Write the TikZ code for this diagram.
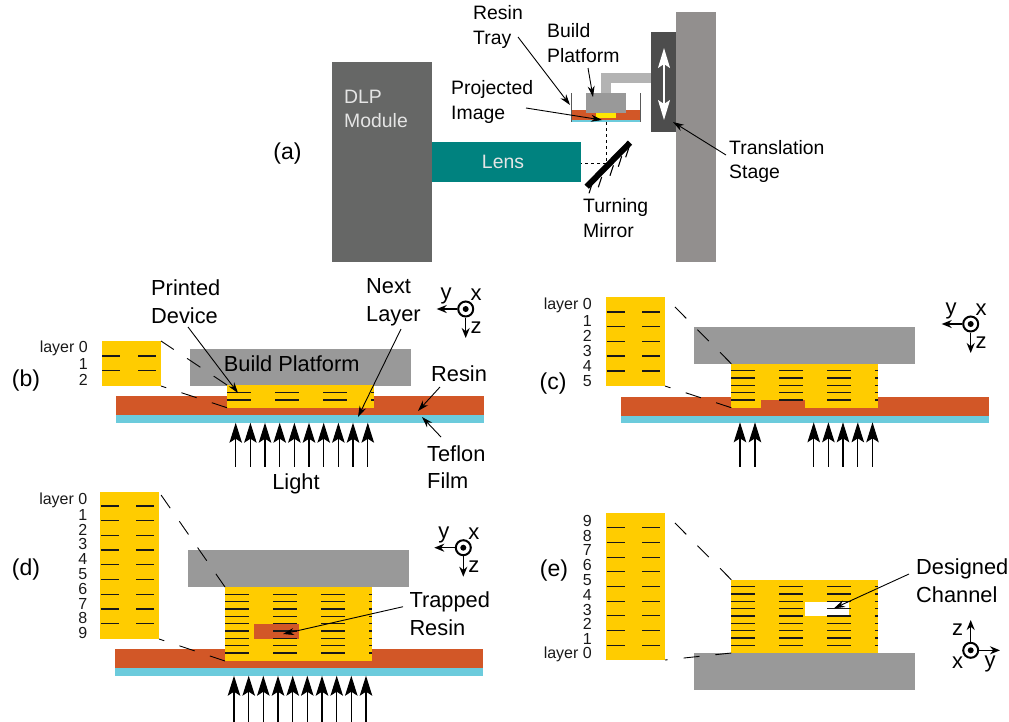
\documentclass[tikz,border=0pt]{standalone}
\usepackage{fontspec}
\setmainfont{Liberation Sans}
\usepackage{xcolor}
\usetikzlibrary{arrows.meta}
\definecolor{resincol}{HTML}{D25727}
\definecolor{filmcol}{HTML}{6CCBDC}
\definecolor{devicecol}{HTML}{FFCC00}
\definecolor{platcol}{HTML}{999999}
\definecolor{lenscol}{HTML}{00827F}
\definecolor{stagecol}{HTML}{928F8E}
\definecolor{carcol}{HTML}{4D4D4D}
\definecolor{dlpcol}{HTML}{666766}
\definecolor{armcol}{HTML}{B3B3B3}
\tikzset{
  biglabel/.style={inner sep=0pt,anchor=west,align=left,text=black,font=\fontsize{21.8}{27.8}\selectfont},
  toplabel/.style={inner sep=0pt,anchor=west,align=left,text=black,font=\fontsize{19.4}{24.6}\selectfont},
  panellabel/.style={inner sep=0pt,text=black,font=\fontsize{23}{27}\selectfont},
  layerlabel/.style={inner sep=0pt,anchor=east,text=black!90,font=\fontsize{16}{16}\selectfont},
  axlabel/.style={inner sep=0pt,font=\fontsize{22}{22}\selectfont},
  callout/.style={-{Stealth[length=11pt,width=7pt]},line width=0.9pt},
  lightray/.style={-{Stealth[length=20pt,width=12.5pt,inset=4pt]},line width=1.1pt,black},
  axarrow/.style={-{Stealth[length=10pt,width=8pt]},line width=1.4pt},
  layerline/.style={line width=1.1pt,black!90},
  zoomline/.style={line width=0.9pt,dash pattern=on 16pt off 16pt},
}
\begin{document}
\begin{tikzpicture}[x=1pt,y=-1pt]
  \useasboundingbox (0,0) rectangle (1009,721);

  \fill[stagecol] (676,12) rectangle (716,262);
  \fill[carcol] (651,32) rectangle (676,132);
  \fill[dlpcol] (332,62) rectangle (432,262);
  \fill[lenscol] (432,142) rectangle (581,182);
  \fill[armcol] (601,73) rectangle (651,83);
  \fill[armcol] (601,73) rectangle (611,93);
  \fill[resincol] (572,110) rectangle (641,120);
  \fill[filmcol] (572,120) rectangle (641,122);
  \fill[platcol] (586,93) rectangle (626,113);
  \fill[yellow!90!orange] (596,113) rectangle (616,118);
  \draw[line width=1.2pt,black!65] (571.7,93) -- (571.7,122);
  \draw[line width=1.2pt,black!65] (640.8,93) -- (640.8,122);
  \draw[white,line width=1.5pt,{Stealth[length=20pt,width=12pt,inset=4pt]}-{Stealth[length=20pt,width=12pt,inset=4pt]}] (664,48) -- (664,120);
  \draw[line width=0.8pt,dashed] (606.7,122) -- (606.7,163) -- (581,163);
  \draw[line width=6pt] (586.7,186.7) -- (630,142.7);
  \foreach \hx/\hy in {589/193.3,598.3/187.3,610/175.7,618.3/166.7,625.7/157.3}
    \draw[line width=1.1pt] (\hx,\hy) -- ++(3.4,-10.4);

  \node[toplabel,text=white!90!black] (dlp) at (344,109) {DLP\\Module};
  \node[toplabel,text=white!90!black,anchor=center] (lens) at (503,161.5) {Lens};
  \node[toplabel] (tray) at (473,27) {Resin\\Tray};
  \node[toplabel] (buildtop) at (547,43) {Build\\Platform};
  \node[toplabel] (image) at (451,102) {Projected\\Image};
  \node[toplabel] (stage) at (729,161.5) {Translation\\Stage};
  \node[toplabel] (mirror) at (583,218) {Turning\\Mirror};
  \node[panellabel] (pa) at (287.5,154) {(a)};

  \coordinate (traytail) at (518,37);
  \coordinate (traytip) at (570,105);
  \coordinate (buildtail) at (588,68);
  \coordinate (buildtip) at (593,97);
  \coordinate (imagetail) at (526,108);
  \coordinate (imagetip) at (602,120);
  \coordinate (stagetail) at (726,155);
  \coordinate (stagetip) at (673,122);
  \draw[callout] (traytail) -- (traytip);
  \draw[callout] (buildtail) -- (buildtip);
  \draw[callout] (imagetail) -- (imagetip);
  \draw[callout] (stagetail) -- (stagetip);

  \fill[resincol] (116,396) rectangle (484,415);
  \fill[filmcol] (116,415) rectangle (484,423);
  \fill[platcol] (190,349) rectangle (411,386);
  \fill[devicecol] (227,385) rectangle (374,407.7);
  \fill[devicecol] (102,341) rectangle (161,386);
  \foreach \ly in {392.7,400}
    \foreach \lx/\lw in {227/24,275/24,323/24,371/3}
      \draw[layerline] (\lx,\ly) -- ++(\lw,0);
  \foreach \ly in {356,370.7}
    \foreach \lx in {102,138}
      \draw[layerline] (\lx,\ly) -- ++(18,0);
  \coordinate (bdevtop) at (227,385);
  \coordinate (bdevbot) at (227,407.7);
  \coordinate (binstop) at (161,341);
  \coordinate (binsbot) at (161,386);
  \draw[zoomline] (bdevtop) -- (binstop);
  \draw[zoomline] (bdevbot) -- (binsbot);
  \foreach \ax in {235.7,250.4,265,279.7,294.4,309,323.7,338.4,353,367.8}
    \draw[lightray] (\ax,466.7) -- (\ax,422.7);

  \node[panellabel] (pb) at (26,380.5) {(b)};
  \node[layerlabel] (blayer0) at (88,348) {layer 0};
  \foreach \n/\ly in {1/364,2/380}
    \node[layerlabel] (blayer\n) at (88,\ly) {\n};
  \node[biglabel,anchor=center] (platb) at (291.7,363.5) {Build Platform};
  \node[biglabel] (printed) at (151,302) {Printed\\Device};
  \node[biglabel] (nextlayer) at (366,302) {Next\\Layer};
  \node[biglabel] (resinb) at (431,374) {Resin};
  \node[biglabel] (teflon) at (427,467) {Teflon\\Film};
  \node[biglabel,anchor=center] (light) at (296,484) {Light};

  \coordinate (printedtail) at (188,327);
  \coordinate (printedtip) at (238,393);
  \coordinate (nexttail) at (401,329);
  \coordinate (nexttip) at (358,417);
  \coordinate (resintail) at (440,387);
  \coordinate (resintip) at (418,411);
  \coordinate (teflontail) at (441,437);
  \coordinate (teflontip) at (422,417);
  \draw[callout] (printedtail) -- (printedtip);
  \draw[callout] (nexttail) -- (nexttip);
  \draw[callout] (resintail) -- (resintip);
  \draw[callout] (teflontail) -- (teflontip);

  \fill[resincol] (621,397) rectangle (989,416);
  \fill[filmcol] (621,416) rectangle (989,423);
  \fill[platcol] (694,327) rectangle (915,363.7);
  \fill[devicecol] (731.3,363.7) rectangle (878.3,407.7);
  \fill[resincol] (760.7,400) rectangle (805,407.7);
  \fill[devicecol] (606,297) rectangle (665,386);
  \foreach \ly in {370.7,378,385.3,392.7,400}
    \foreach \lx/\lw in {731.3/24,779.3/24,827.3/24,875.3/3}
      \draw[layerline] (\lx,\ly) -- ++(\lw,0);
  \foreach \ly in {312,326.7,341.4,356,371}
    \foreach \lx in {606.7,642.3}
      \draw[layerline] (\lx,\ly) -- ++(18,0);
  \coordinate (cdevtop) at (731.3,363.7);
  \coordinate (cdevbot) at (731.3,407.7);
  \coordinate (cinstop) at (665,297);
  \coordinate (cinsbot) at (665,386);
  \draw[zoomline] (cdevtop) -- (cinstop);
  \draw[zoomline] (cdevbot) -- (cinsbot);
  \foreach \ax in {740,755,813.7,828.4,843,857.8,872.5}
    \draw[lightray] (\ax,466.7) -- (\ax,422.3);

  \node[panellabel] (pc) at (553,383.5) {(c)};
  \node[layerlabel] (clayer0) at (592,305.7) {layer 0};
  \foreach \n/\ly in {1/320.7,2/335.7,3/350.7,4/365.7,5/380.7}
    \node[layerlabel] (clayer\n) at (592,\ly) {\n};

  \fill[resincol] (115,649) rectangle (483,668);
  \fill[filmcol] (115,668) rectangle (483,676);
  \fill[platcol] (188,550) rectangle (409,587);
  \fill[devicecol] (225,587) rectangle (372,661);
  \fill[resincol] (254,624) rectangle (299,639);
  \fill[devicecol] (100,492) rectangle (159,639);
  \foreach \ly in {594.3,601.7,609,616.3,623.7,631,638.3,645.7,653}
    \foreach \lx/\lw in {225/24,273/24,321/24,369/3}
      \draw[layerline] (\lx,\ly) -- ++(\lw,0);
  \foreach \ly in {506,520.7,535.4,550,564.8,579.5,594.2,609,623.7}
    \foreach \lx in {100.7,136}
      \draw[layerline] (\lx,\ly) -- ++(18,0);
  \coordinate (ddevtop) at (225,587);
  \coordinate (ddevbot) at (225,661);
  \coordinate (dinstop) at (159,492);
  \coordinate (dinsbot) at (159,639);
  \draw[zoomline] (ddevtop) -- (dinstop);
  \draw[zoomline] (ddevbot) -- (dinsbot);
  \foreach \ax in {234,248.7,263.3,278,292.7,307.3,322,336.7,351.3,366}
    \draw[lightray] (\ax,725) -- (\ax,675.7);

  \node[panellabel] (pd) at (26,569.5) {(d)};
  \node[layerlabel] (dlayer0) at (87.5,500) {layer 0};
  \foreach \n/\ly in {1/514.8,2/529.6,3/544.4,4/559.2,5/574,6/588.8,7/603.6,8/618.4,9/633.2}
    \node[layerlabel] (dlayer\n) at (87.5,\ly) {\n};
  \node[biglabel] (trapped) at (409.3,614) {Trapped\\Resin};
  \coordinate (trappedtail) at (403,606.7);
  \coordinate (trappedtip) at (283,634);
  \draw[callout] (trappedtail) -- (trappedtip);

  \fill[platcol] (694,653) rectangle (915,690);
  \fill[devicecol] (731.3,579.7) rectangle (878.3,653);
  \fill[white] (805,601.7) rectangle (849.3,616);
  \fill[devicecol] (606,513) rectangle (665,660);
  \foreach \ly in {586.7,594,601.4,608.7,616,623.4,630.7,638,645.3}
    \foreach \lx/\lw in {731.3/24,779.3/24,827.3/24,875.3/3}
      \draw[layerline] (\lx,\ly) -- ++(\lw,0);
  \foreach \ly in {527.7,542.4,557.1,571.8,586.5,601.2,615.9,630.6,645.3}
    \foreach \lx in {606.7,642.3}
      \draw[layerline] (\lx,\ly) -- ++(18,0);
  \coordinate (edevtop) at (731.3,579.7);
  \coordinate (edevbot) at (731.3,653);
  \coordinate (einstop) at (665,513);
  \coordinate (einsbot) at (665,660);
  \draw[zoomline] (edevtop) -- (einstop);
  \draw[zoomline] (edevbot) -- (einsbot);

  \node[panellabel] (pe) at (554,571) {(e)};
  \foreach \n/\ly in {9/520.7,8/535.5,7/550.3,6/565.1,5/579.9,4/594.7,3/609.5,2/624.3,1/639.1}
    \node[layerlabel] (elayer\n) at (592,\ly) {\n};
  \node[layerlabel] (elayer0) at (592,654.7) {layer 0};
  \node[biglabel] (designed) at (916,581) {Designed\\Channel};
  \coordinate (designedtail) at (909,574);
  \coordinate (designedtip) at (834,608.3);
  \draw[callout] (designedtail) -- (designedtip);

  \foreach \tag/\ox/\oy in {b/465.7/309,c/970.7/324,d/463.3/547.7}{
    \node[circle,draw,line width=2pt,minimum size=15pt,inner sep=0pt] (ax\tag) at (\ox,\oy) {};
    \fill (\ox,\oy) circle (3pt);
    \coordinate (ax\tag y) at (\ox-29,\oy);
    \coordinate (ax\tag z) at (\ox,\oy+29);
    \draw[axarrow] (ax\tag) -- (ax\tag y);
    \draw[axarrow] (ax\tag) -- (ax\tag z);
    \node[axlabel] (ax\tag ly) at (\ox-19.5,\oy-13) {y};
    \node[axlabel] (ax\tag lx) at (\ox+10.5,\oy-14) {x};
    \node[axlabel] (ax\tag lz) at (\ox+10.5,\oy+19) {z};
  }
  \node[circle,draw,line width=2pt,minimum size=15pt,inner sep=0pt] (axe) at (970.7,650.3) {};
  \fill (970.7,650.3) circle (3pt);
  \coordinate (axey) at (1000,650.3);
  \coordinate (axez) at (970.7,620);
  \draw[axarrow] (axe) -- (axey);
  \draw[axarrow] (axe) -- (axez);
  \node[axlabel] (axely) at (990,664) {y};
  \node[axlabel] (axelx) at (957.7,663) {x};
  \node[axlabel] (axelz) at (957.7,630) {z};
\end{tikzpicture}
\end{document}
